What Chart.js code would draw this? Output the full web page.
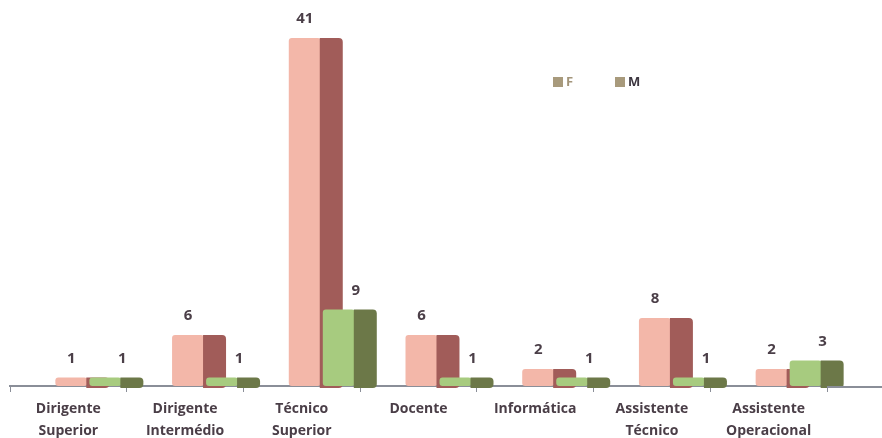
<!DOCTYPE html>
<html>
<head>
<meta charset="utf-8">
<script src="https://cdn.jsdelivr.net/npm/chart.js@4/dist/chart.umd.min.js"></script>
<style>
  html, body { margin: 0; padding: 0; background: #fff; }
  #wrap { width: 882px; height: 438px; }
</style>
</head>
<body>
<div id="wrap"><canvas id="carreiraChart"></canvas></div>
<script>
const categorias = [
  ["Dirigente", "Superior"],
  ["Dirigente", "Intermédio"],
  ["Técnico", "Superior"],
  ["Docente"],
  ["Informática"],
  ["Assistente", "Técnico"],
  ["Assistente", "Operacional"]
];
const feminino = [1, 6, 41, 6, 2, 8, 2];
const masculino = [1, 1, 9, 1, 1, 1, 3];
const legendas = ["F", "M"];

// front / side colours for each series
const cores = [
  { frente: "#f3b7a9", lado: "#a15c59" },
  { frente: "#a7cb7f", lado: "#6c7848" }
];
const LABEL_COLOR = "#4b3f48";
const DEPTH_SHIFT = 20;
const SIDE = 23;

function drawSides(chart, i) {
  const ctx = chart.ctx;
  const meta = chart.getDatasetMeta(i);
  const values = chart.data.datasets[i].data;
  meta.data.forEach((bar, j) => {
    const x0 = bar.x + bar.width / 2 - 1;
    const top = Math.min(bar.y, bar.base);
    const h = Math.abs(bar.base - bar.y) + 2;
    ctx.fillStyle = cores[i].lado;
    ctx.beginPath();
    ctx.roundRect(x0, top, SIDE, h, [0, 4, 4, 0]);
    ctx.fill();
    // value label
    ctx.fillStyle = LABEL_COLOR;
    ctx.font = "bold 15px 'Open Sans'";
    ctx.textAlign = "center";
    ctx.textBaseline = "middle";
    const lx = i === 0 ? bar.x : bar.x + 17;
    ctx.fillText(String(values[j]), lx, bar.y - 19);
  });
}

// fake 3D: shift the bars right, paint a darker side face,
// and keep the M series on top of the F series
const bars3d = {
  id: "bars3d",
  beforeDatasetsDraw(chart) {
    chart.ctx.save();
    chart.ctx.translate(DEPTH_SHIFT, 0);
  },
  beforeDatasetDraw(chart, args) {
    if (args.index === 1) return false;
  },
  afterDatasetDraw(chart, args) {
    if (args.index !== 0) return;
    drawSides(chart, 0);
    chart.getDatasetMeta(1).controller.draw();
    drawSides(chart, 1);
  },
  afterDatasetsDraw(chart) {
    chart.ctx.restore();
  },
  afterDraw(chart) {
    const ctx = chart.ctx;
    const a = chart.chartArea;
    // floor line continues past the last category
    ctx.save();
    ctx.strokeStyle = "#8a8e98";
    ctx.lineWidth = 2;
    ctx.beginPath();
    ctx.moveTo(a.right, a.bottom + 1);
    ctx.lineTo(chart.width, a.bottom + 1);
    ctx.stroke();
    // legend
    ctx.font = "bold 13px 'Open Sans'";
    ctx.textBaseline = "middle";
    ctx.textAlign = "left";
    const itens = [
      { x: 553, cor: "#a3957a" },
      { x: 615, cor: "#3c3640" }
    ];
    itens.forEach((it, k) => {
      ctx.fillStyle = "#a89a7c";
      ctx.fillRect(it.x, 77, 10, 10);
      ctx.fillStyle = it.cor;
      ctx.fillText(legendas[k], it.x + 13, 82);
    });
    ctx.restore();
  }
};

new Chart(document.getElementById("carreiraChart"), {
  type: "bar",
  data: {
    labels: categorias,
    datasets: [
      {
        label: legendas[0],
        data: feminino,
        backgroundColor: cores[0].frente,
        borderRadius: 3,
        borderSkipped: false,
        clip: false
      },
      {
        label: legendas[1],
        data: masculino,
        backgroundColor: cores[1].frente,
        borderRadius: 3,
        borderSkipped: false,
        clip: false
      }
    ]
  },
  options: {
    responsive: true,
    maintainAspectRatio: false,
    animation: false,
    layout: { padding: { left: 10, right: 55, top: 10, bottom: 0 } },
    datasets: {
      bar: { categoryPercentage: 0.583, barPercentage: 0.94 }
    },
    plugins: {
      legend: { display: false },
      tooltip: { enabled: false }
    },
    scales: {
      x: {
        afterFit(scale) { scale.height = 52; },
        border: { color: "#8a8e98", width: 2 },
        grid: {
          drawOnChartArea: false,
          color: "#8a8e98",
          tickLength: 6
        },
        ticks: {
          color: "#4a3e47",
          padding: 6,
          font: { family: "'Open Sans'", size: 14, weight: "bold", lineHeight: 1.57 }
        }
      },
      y: {
        display: false,
        min: 0,
        max: 44.3
      }
    }
  },
  plugins: [bars3d]
});
</script>
</body>
</html>
